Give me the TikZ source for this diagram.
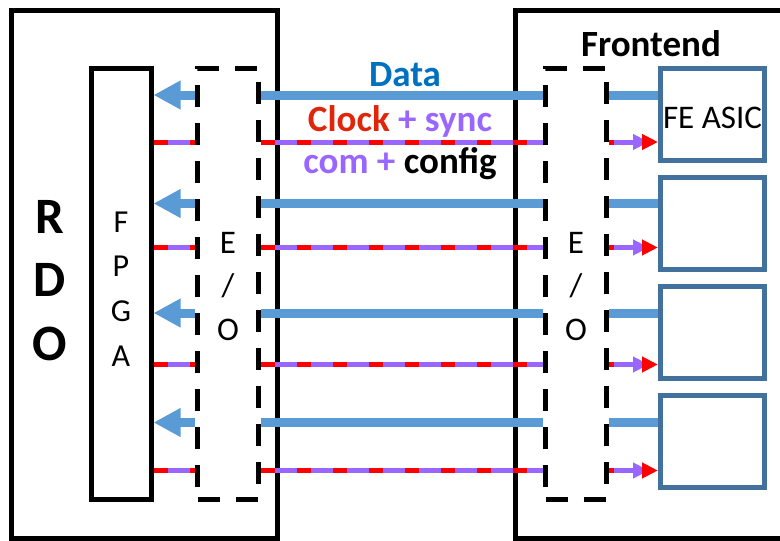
\documentclass[tikz,border=0pt]{standalone}
\usepackage{fontspec}
\setmainfont{Carlito}
\usetikzlibrary{arrows.meta}
\definecolor{datablue}{RGB}{91,155,213}
\definecolor{datatext}{RGB}{0,112,192}
\definecolor{clkred}{RGB}{255,0,0}
\definecolor{clktext}{RGB}{224,38,10}
\definecolor{cfgpurple}{RGB}{153,102,255}
\definecolor{asicblue}{RGB}{65,113,156}

\begin{document}
\begin{tikzpicture}[x=1pt, y=-1pt,
    box/.style={draw, line width=5pt, inner sep=0pt},
    eobox/.style={draw, line width=5pt, dash pattern=on 22pt off 16pt,
      minimum width=61pt, minimum height=431pt, inner sep=0pt},
    asicbox/.style={draw=asicblue, line width=5pt, minimum width=104pt,
      minimum height=92pt, inner sep=0pt},
    letter/.style={inner sep=0pt, anchor=base, font=\fontsize{33}{38}\selectfont},
    title/.style={inner sep=0pt, anchor=base, font=\bfseries\fontsize{37}{42}\selectfont},
    dataline/.style={datablue, line width=9pt},
    ctrlback/.style={cfgpurple, line width=5pt},
    ctrlfront/.style={clkred, line width=5pt, dash pattern=on 14pt off 22pt},
  ]
  \useasboundingbox (0,0) rectangle (780,541);
  \clip (0,0) rectangle (780,541);

  % RDO side
  \node[box, minimum width=266pt, minimum height=528pt] (rdo) at (144,274) {};
  \foreach \ch [count=\i from 0] in {R,D,O}
    \node[letter, font=\bfseries\fontsize{51}{60}\selectfont] (rdo\ch) at (50,{233+63.5*\i}) {\ch};
  \node[box, minimum width=60pt, minimum height=431pt] (fpga) at (121,283.5) {};
  \foreach \ch [count=\i from 0] in {F,P,G,A}
    \node[letter, font=\fontsize{32}{38}\selectfont] (fpga\ch) at (121,{232+44.7*\i}) {\ch};
  \node[eobox] (eoL) at (228,283.5) {};

  % Frontend side
  \node[box, minimum width=285pt, minimum height=528pt] (fe) at (657.5,274) {};
  \node[title] (feLabel) at (651,56) {Frontend};
  \node[eobox] (eoR) at (576,283.5) {};
  \foreach \i/\y in {1/114.5, 2/223, 3/332, 4/441}
    \node[asicbox] (asic\i) at (712.5,\y) {};
  \node[letter] (asicLabel) at (712.5,128) {FE ASIC};

  % E/O letters
  \foreach \ch [count=\i from 0] in {E,/,O}{
    \node[letter] (eoL\i) at (228,{253+43.5*\i}) {\ch};
    \node[letter] (eoR\i) at (576,{253+43.5*\i}) {\ch};
  }

  % links
  \foreach \i/\yd/\yc in {1/95/142, 2/203.5/247.5, 3/313/364.5, 4/422.5/470.5}{
    \coordinate (d\i) at (0,\yd);
    \coordinate (c\i) at (0,\yc);
    % data: frontend to RDO
    \draw[dataline] (asic\i.west |- d\i) -- (eoR.east |- d\i);
    \draw[dataline] (eoR.west |- d\i) -- (eoL.east |- d\i);
    \draw[dataline, -{Triangle[length=27pt, width=27pt]}] (eoL.west |- d\i) -- (fpga.east |- d\i);
    % clock, sync, config: RDO to frontend
    \draw[ctrlback] (fpga.east |- c\i) -- (eoL.west |- c\i);
    \draw[ctrlfront] (fpga.east |- c\i) -- (eoL.west |- c\i);
    \draw[ctrlback] (eoL.east |- c\i) -- (eoR.west |- c\i);
    \draw[ctrlfront] (eoL.east |- c\i) -- (eoR.west |- c\i);
    \draw[ctrlback, shorten >=9pt, -{Triangle[length=16pt, width=15pt]}] (eoR.east |- c\i) -- (asic\i.west |- c\i);
    \draw[ctrlfront, dash pattern=on 5pt off 60pt, -{Triangle[length=16pt, width=15pt]}] (eoR.east |- c\i) -- (asic\i.west |- c\i);
  }

  % link labels
  \node[title, datatext] (dataLabel) at (405,86) {Data};
  \node[title] (clkLabel) at (400,131) {\textcolor{clktext}{Clock} \textcolor{cfgpurple}{+ sync}};
  \node[title] (cfgLabel) at (400,173) {\textcolor{cfgpurple}{com +} config};
\end{tikzpicture}
\end{document}
